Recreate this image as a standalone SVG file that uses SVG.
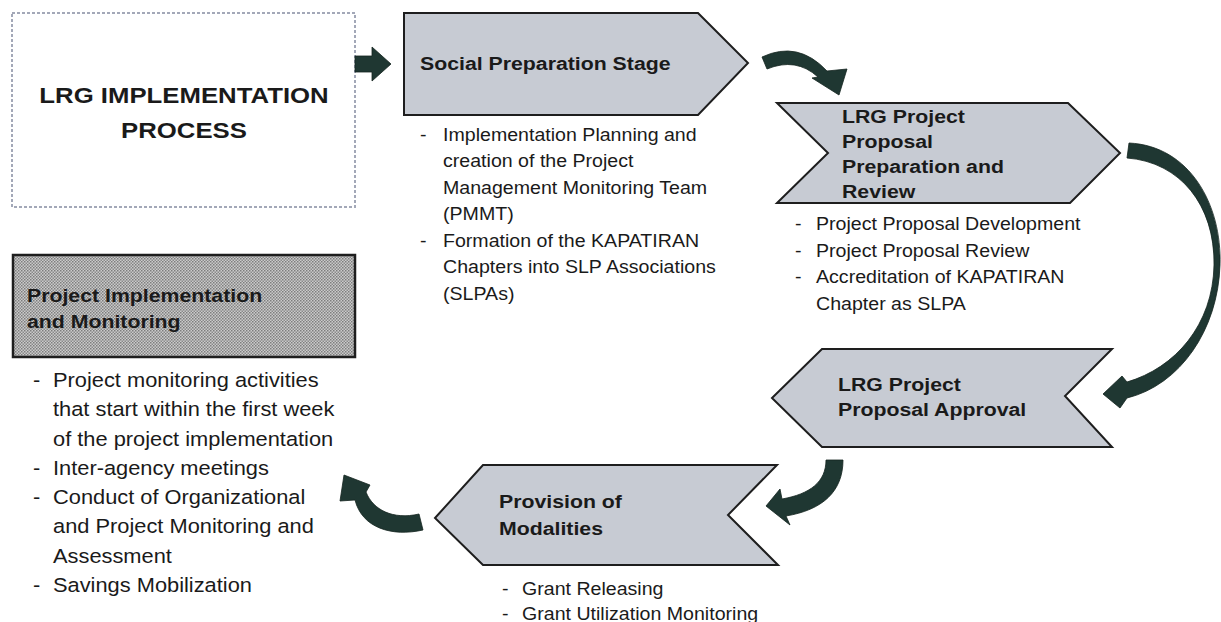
<svg xmlns="http://www.w3.org/2000/svg" width="1221" height="622" viewBox="0 0 1221 622">
<defs>
<style>
.hdr{font-family:"Liberation Sans",Arial,sans-serif;font-weight:bold;font-size:19px;fill:#1a1a1a}
.ttl{font-family:"Liberation Sans",Arial,sans-serif;font-weight:bold;font-size:23px;fill:#1a1a1a}
.txt{font-family:"Liberation Sans",Arial,sans-serif;font-size:17.5px;fill:#1a1a1a}
.txtL{font-family:"Liberation Sans",Arial,sans-serif;font-size:19.5px;fill:#1a1a1a}
.chev{fill:#c7cbd3;stroke:#1e1e1e;stroke-width:2;stroke-linejoin:miter}
.arr{fill:#1f3732;stroke:#142520;stroke-width:0.8}
</style>
<pattern id="chk" width="3" height="3" patternUnits="userSpaceOnUse">
<rect width="3" height="3" fill="#cbcbcb"/>
<rect width="1.5" height="1.5" fill="#7d7d7d"/>
<rect x="1.5" y="1.5" width="1.5" height="1.5" fill="#8a8a8a"/>
</pattern>
</defs>
<rect width="1221" height="622" fill="#ffffff"/>

<g id="title">
<rect x="12" y="13" width="343" height="194" fill="#ffffff" stroke="#a3a8b8" stroke-width="2" stroke-dasharray="3 2"/>
<text class="ttl" text-anchor="middle" transform="translate(184,103) scale(1.12,1)"><tspan x="0" y="0">LRG IMPLEMENTATION</tspan><tspan x="0" y="35">PROCESS</tspan></text>
</g>

<g id="social">
<polygon class="chev" points="404,13 698,13 748,63 698,115 404,115"/>
<text class="hdr" transform="translate(420,70) scale(1.12,1)">Social Preparation Stage</text>
<text class="txt" transform="translate(420,141) scale(1.12,1)"><tspan x="0" y="0">-</tspan><tspan x="0" y="106">-</tspan></text>
<text class="txt" transform="translate(443,141) scale(1.12,1)"><tspan x="0" y="0">Implementation Planning and</tspan><tspan x="0" y="26.5">creation of the Project</tspan><tspan x="0" y="53">Management Monitoring Team</tspan><tspan x="0" y="79.5">(PMMT)</tspan><tspan x="0" y="106">Formation of the KAPATIRAN</tspan><tspan x="0" y="132.5">Chapters into SLP Associations</tspan><tspan x="0" y="159">(SLPAs)</tspan></text>
</g>

<g id="prep">
<polygon class="chev" points="777,103 1068,103 1120,153 1070,203 777,203 828,153"/>
<text class="hdr" transform="translate(842,123) scale(1.12,1)"><tspan x="0" y="0">LRG Project</tspan><tspan x="0" y="25">Proposal</tspan><tspan x="0" y="50">Preparation and</tspan><tspan x="0" y="75">Review</tspan></text>
<text class="txt" transform="translate(795,230) scale(1.12,1)"><tspan x="0" y="0">-</tspan><tspan x="0" y="26.7">-</tspan><tspan x="0" y="53.4">-</tspan></text>
<text class="txt" transform="translate(816,230) scale(1.12,1)"><tspan x="0" y="0">Project Proposal Development</tspan><tspan x="0" y="26.7">Project Proposal Review</tspan><tspan x="0" y="53.4">Accreditation of KAPATIRAN</tspan><tspan x="0" y="80.1">Chapter as SLPA</tspan></text>
</g>

<g id="approval">
<polygon class="chev" points="822,349 1112,349 1065,396 1112,447 822,447 772,398"/>
<text class="hdr" transform="translate(838,391) scale(1.12,1)"><tspan x="0" y="0">LRG Project</tspan><tspan x="0" y="25">Proposal Approval</tspan></text>
</g>

<g id="provision">
<polygon class="chev" points="483,465 777,465 728,515 778,565 483,565 435,518"/>
<text class="hdr" transform="translate(499,508) scale(1.12,1)"><tspan x="0" y="0">Provision of</tspan><tspan x="0" y="27">Modalities</tspan></text>
<text class="txt" transform="translate(502,595) scale(1.12,1)"><tspan x="0" y="0">-</tspan><tspan x="0" y="25">-</tspan></text>
<text class="txt" transform="translate(522,595) scale(1.12,1)"><tspan x="0" y="0">Grant Releasing</tspan><tspan x="0" y="25">Grant Utilization Monitoring</tspan></text>
</g>

<g id="implementation">
<rect x="13" y="255" width="342" height="102" fill="url(#chk)" stroke="#1e1e1e" stroke-width="2.5"/>
<text class="hdr" transform="translate(27,302) scale(1.12,1)"><tspan x="0" y="0">Project Implementation</tspan><tspan x="0" y="26">and Monitoring</tspan></text>
<text class="txtL" transform="translate(33,387) scale(1.12,1)"><tspan x="0" y="0">-</tspan><tspan x="0" y="87.9">-</tspan><tspan x="0" y="117.2">-</tspan><tspan x="0" y="205.1">-</tspan></text>
<text class="txtL" transform="translate(53,387) scale(1.12,1)"><tspan x="0" y="0">Project monitoring activities</tspan><tspan x="0" y="29.3">that start within the first week</tspan><tspan x="0" y="58.6">of the project implementation</tspan><tspan x="0" y="87.9">Inter-agency meetings</tspan><tspan x="0" y="117.2">Conduct of Organizational</tspan><tspan x="0" y="146.5">and Project Monitoring and</tspan><tspan x="0" y="175.8">Assessment</tspan><tspan x="0" y="205.1">Savings Mobilization</tspan></text>
</g>

<g id="connectors">
<polygon class="arr" points="355,56 372,56 372,47 391,64 372,81 372,72 355,72"/>
<path class="arr" d="M762,57 Q798,40 827,71 L847,69 L839,95 L812,78 L818,77 Q796,57 767,69 Z"/>
<path class="arr" d="M1129,143 C1190,146 1222,205 1220,265 C1218,330 1180,385 1127,398 L1120,408 L1103,394 L1122,376 L1127,382 C1175,368 1213,325 1214,265 C1215,205 1180,162 1127,158 Z"/>
<path class="arr" d="M826,460 L843,460 C843,492 822,510 786,516 L790,525 L766,506 L780,489 L782,499 C810,494 826,482 826,460 Z"/>
<path class="arr" d="M419,514 L423,530 C392,537 362,528 355,500 L340,501 L344,475 L370,485 L366,492 C373,510 393,520 419,514 Z"/>
</g>
</svg>
